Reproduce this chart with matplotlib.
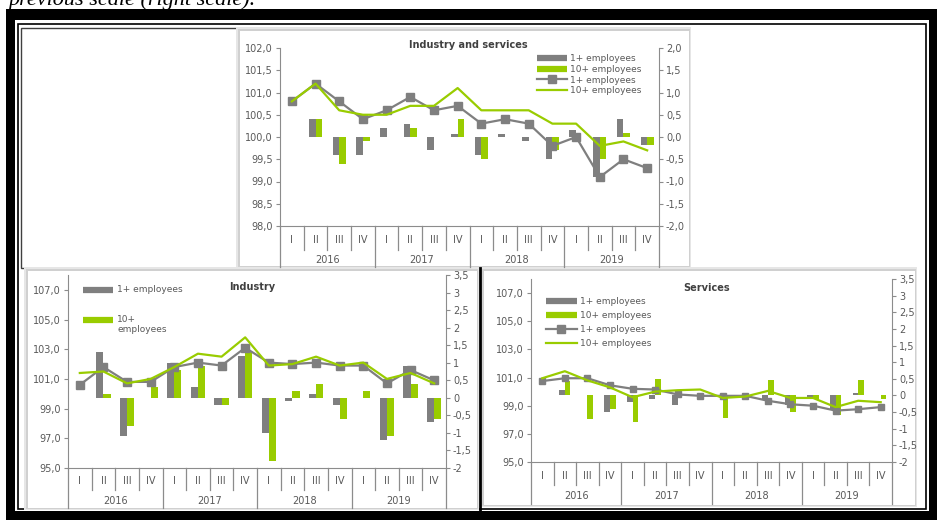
import numpy as np
import matplotlib.pyplot as plt
from matplotlib.patches import Rectangle
from matplotlib.lines import Line2D

W, H = 938, 520

quarters = ['I', 'II', 'III', 'IV'] * 4
years = ['2016', '2017', '2018', '2019']

# Industry and services (top chart)
is_bar1 = [0, 0.4, -0.4, -0.4, 0.2, 0.3, -0.3, 0.07, -0.4, 0.07, -0.1, -0.5, 0.15, -0.9, 0.4, -0.18]
is_bar10 = [0, 0.4, -0.6, -0.1, 0, 0.2, 0, 0.4, -0.5, 0, 0, -0.3, 0, -0.5, 0.1, -0.18]
is_line1 = [100.8, 101.2, 100.8, 100.4, 100.6, 100.9, 100.6, 100.7, 100.3, 100.4, 100.3, 99.8, 100.0, 99.1, 99.5, 99.3]
is_line10 = [100.8, 101.2, 100.6, 100.5, 100.5, 100.7, 100.7, 101.1, 100.6, 100.6, 100.6, 100.3, 100.3, 99.8, 99.9, 99.7]

# Industry (bottom left)
ind_bar1 = [0, 1.3, -1.1, 0, 1.0, 0.3, -0.2, 1.2, -1.0, -0.1, 0.1, -0.2, 0, -1.2, 0.9, -0.7]
ind_bar10 = [0, 0.1, -0.8, 0.3, 0.8, 0.9, -0.2, 1.3, -1.8, 0.2, 0.4, -0.6, 0.2, -1.1, 0.4, -0.6]
ind_line1 = [100.6, 101.8, 100.8, 100.8, 101.8, 102.1, 101.9, 103.1, 102.1, 102.0, 102.1, 101.9, 101.9, 100.7, 101.6, 100.9]
ind_line10 = [101.4, 101.5, 100.7, 101.0, 101.8, 102.7, 102.5, 103.8, 101.9, 102.0, 102.5, 101.9, 102.1, 101.0, 101.4, 100.7]

# Services (bottom right)
sv_bar1 = [0, 0.17, 0, -0.5, -0.2, -0.1, -0.3, 0, 0, 0, -0.1, -0.3, -0.1, -0.4, 0.07, 0]
sv_bar10 = [0, 0.42, -0.72, -0.4, -0.8, 0.5, 0, 0, -0.69, 0, 0.46, -0.5, -0.1, -0.6, 0.46, -0.1]
sv_line1 = [100.75, 100.95, 100.95, 100.45, 100.2, 100.15, 99.8, 99.7, 99.7, 99.7, 99.35, 99.1, 99.0, 98.65, 98.75, 98.9]
sv_line10 = [100.95, 101.45, 100.8, 100.3, 99.6, 100.0, 100.1, 100.15, 99.55, 99.65, 100.05, 99.55, 99.55, 98.9, 99.35, 99.25]

GREY = '#7f7f7f'
GREEN = '#99cc00'
AXC = '#8c8c8c'
TXT = '#595959'

plt.rcParams['font.family'] = 'DejaVu Sans'

fig = plt.figure(figsize=(W / 100, H / 100), dpi=100)


def box(x0, y0, x1, y1, **kw):
    r = Rectangle((x0 / W, 1 - y1 / H), (x1 - x0) / W, (y1 - y0) / H,
                  transform=fig.transFigure, **kw)
    fig.add_artist(r)
    return r


def panel(x0, y0, x1, y1):
    # soft grey edge, like the pasted chart's shadow
    box(x0, y0, x1, y1, facecolor='#e6e6e6', edgecolor='none', zorder=-7)
    box(x0 + 2, y0 + 2, x1 - 1, y1 - 1, facecolor='#d0d0d0', edgecolor='none', zorder=-6.5)
    box(x0 + 4, y0 + 4, x1 - 2, y1 - 2, facecolor='white', edgecolor='none', zorder=-6)


def comma(v, fmt):
    return (fmt % v).replace('.', ',')


def chart(px, llim, lticks, lfmt, rlim, rticks, rfmt, bar1, bar10, line1, line10,
          bw, ms, lab_off, year_off, qsep, bottom):
    x0, y0, x1, y1 = px
    h = y1 - y0
    ax = fig.add_axes([x0 / W, 1 - y1 / H, (x1 - x0) / W, h / H])
    ax2 = ax.twinx()
    ax.set_zorder(3)
    ax.patch.set_visible(False)
    ax2.patch.set_visible(False)

    x = np.arange(len(quarters))
    ax2.bar(x - bw / 2, bar1, bw, color=GREY)
    ax2.bar(x + bw / 2, bar10, bw, color=GREEN)
    ax.plot(x, line1, color=GREY, lw=1.6, marker='s', ms=ms)
    ax.plot(x, line10, color=GREEN, lw=1.6)

    ax.set_xlim(-0.5, 15.5)
    ax.set_ylim(*llim)
    ax2.set_ylim(*rlim)
    ax.set_yticks(lticks)
    ax.set_yticklabels([comma(v, lfmt) for v in lticks])
    ax2.set_yticks(rticks)
    ax2.set_yticklabels([comma(v, rfmt) for v in rticks])

    for a in (ax, ax2):
        for s in a.spines.values():
            s.set_visible(False)
        a.tick_params(axis='y', direction='out', length=3, color=AXC,
                      labelsize=7, labelcolor=TXT, pad=2)
        a.tick_params(axis='x', bottom=False, labelbottom=False)
    ax.spines['left'].set_visible(True)
    ax.spines['left'].set_color(AXC)
    ax.spines['bottom'].set_visible(True)
    ax.spines['bottom'].set_color(AXC)
    ax2.spines['right'].set_visible(True)
    ax2.spines['right'].set_color(AXC)

    # category axis: separators and two-level labels
    tr = ax.get_xaxis_transform()
    for i in range(17):
        yb = bottom if i % 4 == 0 else qsep
        ax.plot([i - 0.5, i - 0.5], [0, -(yb - y1) / h], transform=tr,
                color=AXC, lw=0.9, clip_on=False)
    for i, q in enumerate(quarters):
        ax.text(i, -lab_off / h, q, transform=tr, ha='center', va='center',
                fontsize=7, color=TXT)
    for k, yr in enumerate(years):
        ax.text(4 * k + 1.5, -year_off / h, yr, transform=tr, ha='center',
                va='center', fontsize=7, color=TXT)
    return ax


# frame and panels
fig.text(8 / W, 1 - 5 / H, 'previous scale (right scale).', family='Liberation Serif',
         style='italic', fontsize=16, va='baseline')
box(6, 9, 937, 520, facecolor='black', zorder=-10)
box(15, 20, 929, 511, facecolor='white', zorder=-9)
box(18, 23.5, 926, 509, facecolor='none', edgecolor='black', lw=1.2, zorder=-8)
box(21, 28, 237, 268, facecolor='white', edgecolor='#404040', lw=1, zorder=-7.5)
panel(236, 27, 691, 268)
panel(24, 267, 479, 510)
panel(480, 267, 917, 507)
fig.add_artist(Line2D([480 / W, 480 / W], [1 - 268 / H, 1 - 510 / H],
                      transform=fig.transFigure, color='black', lw=2, zorder=-5))

top = chart((280, 48, 659, 226), (98, 102), np.arange(98, 102.01, 0.5), '%.1f',
            (-2, 2), np.arange(-2, 2.01, 0.5), '%.1f',
            is_bar1, is_bar10, is_line1, is_line10, 0.28, 6, 14, 34, 250, 267)
ind = chart((68, 275, 446, 468), (95, 108), np.arange(95, 107.1, 2), '%.1f',
            (-2, 3.5), np.arange(-2, 3.51, 0.5), '%g',
            ind_bar1, ind_bar10, ind_line1, ind_line10, 0.3, 6, 13, 33, 490, 508)
srv = chart((531, 279, 892, 462), (95, 108), np.arange(95, 107.1, 2), '%.1f',
            (-2, 3.5), np.arange(-2, 3.51, 0.5), '%g',
            sv_bar1, sv_bar10, sv_line1, sv_line10, 0.25, 5, 14, 34, 485, 504)

# titles
fig.text(468 / W, 1 - 45 / H, 'Industry and services', ha='center', va='center',
         fontsize=7, fontweight='bold', color='#404040')
fig.text(252 / W, 1 - 287 / H, 'Industry', ha='center', va='center',
         fontsize=7, fontweight='bold', color='#404040')
fig.text(707 / W, 1 - 288 / H, 'Services', ha='center', va='center',
         fontsize=7, fontweight='bold', color='#404040')

# legends
handles = [Line2D([], [], color=GREY, lw=4.5, solid_capstyle='butt'),
           Line2D([], [], color=GREEN, lw=4.5, solid_capstyle='butt'),
           Line2D([], [], color=GREY, lw=1.6, marker='s', ms=6),
           Line2D([], [], color=GREEN, lw=1.6)]
labels = ['1+ employees', '10+ employees', '1+ employees', '10+ employees']
top.legend(handles, labels, loc='upper left', bbox_to_anchor=(537 / W, 1 - 54 / H),
           bbox_transform=fig.transFigure, frameon=False, fontsize=6.5,
           handlelength=3.3, handletextpad=0.3, labelspacing=0.2, borderpad=0,
           borderaxespad=0, labelcolor=TXT, numpoints=1)
srv.legend(handles, labels, loc='upper left', bbox_to_anchor=(546 / W, 1 - 297 / H),
           bbox_transform=fig.transFigure, frameon=False, fontsize=6.5,
           handlelength=3.4, handletextpad=0.4, labelspacing=0.55, borderpad=0,
           borderaxespad=0, labelcolor=TXT, numpoints=1)

# industry legend (bars only, second label wraps)
fig.add_artist(Line2D([83 / W, 113 / W], [1 - 290 / H] * 2, transform=fig.transFigure,
                      color=GREY, lw=4.5, solid_capstyle='butt'))
fig.text(117 / W, 1 - 290 / H, '1+ employees', va='center', fontsize=6.5, color=TXT)
fig.add_artist(Line2D([83 / W, 113 / W], [1 - 320 / H] * 2, transform=fig.transFigure,
                      color=GREEN, lw=4.5, solid_capstyle='butt'))
fig.text(117 / W, 1 - 314.5 / H, '10+\nemployees', va='top', fontsize=6.5, color=TXT,
         linespacing=1.25)

fig.savefig('out.png', dpi=100)
